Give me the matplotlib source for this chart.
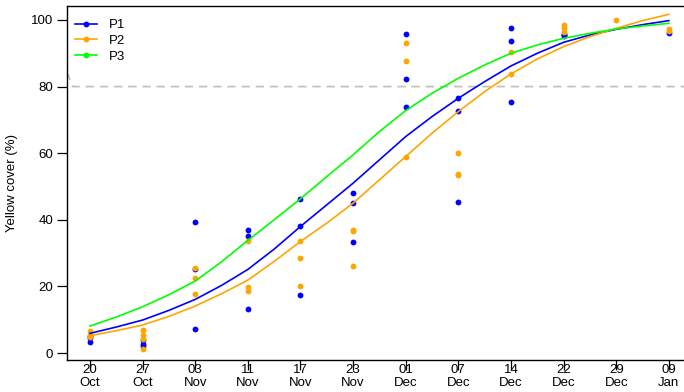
"""Yellow cover over time for three plots, with fitted curves."""

import matplotlib
matplotlib.use("Agg")
import matplotlib.pyplot as plt

plt.rcParams["font.family"] = ["Liberation Sans", "DejaVu Sans"]

# --- data -------------------------------------------------------------
day_labels = ["20", "27", "03", "11", "17", "23", "01", "07", "14", "22", "29", "09"]
month_labels = ["Oct", "Oct", "Nov", "Nov", "Nov", "Nov", "Dec", "Dec", "Dec", "Dec", "Dec", "Jan"]

# observed yellow cover (%) per sampling date
p1_obs = [
    [3.2, 4.5, 5.0],
    [3.9, 2.7, 2.0],
    [39.4, 25.1, 7.1],
    [36.9, 35.1, 13.1],
    [46.3, 38.0, 17.5],
    [47.9, 45.0, 33.2],
    [95.7, 82.3, 74.0],
    [76.5, 72.7, 45.2],
    [97.6, 93.6, 75.3],
    [95.7, 95.5, 95.2],
    [],
    [96.2],
]
p2_obs = [
    [6.5, 5.4, 4.9],
    [6.9, 5.4, 4.2, 1.1],
    [25.6, 22.6, 17.6],
    [33.6, 19.9, 18.6],
    [33.5, 28.6, 20.2],
    [36.9, 36.5, 26.0],
    [93.2, 87.8, 59.0],
    [60.2, 53.9, 53.5],
    [90.4, 83.8],
    [98.5, 97.5, 96.5],
    [100.0],
    [97.2, 96.8],
]

# fitted curves, read at every half step between sampling dates
curve_idx = [1, 1.5, 2, 2.5, 3, 3.5, 4, 4.5, 5, 5.5, 6, 6.5,
             7, 7.5, 8, 8.5, 9, 9.5, 10, 10.5, 11, 11.5, 12]
p1_fit = [5.9, 7.8, 9.9, 12.8, 16.1, 20.3, 25.1, 31.2, 38.0, 44.5, 51.0, 58.0,
          65.0, 71.0, 76.5, 81.5, 86.2, 90.0, 93.3, 95.5, 97.2, 98.6, 99.8]
p2_fit = [5.2, 6.7, 8.4, 11.0, 14.1, 17.8, 21.9, 27.5, 33.5, 39.0, 45.0, 52.0,
          59.0, 66.0, 72.5, 78.5, 83.8, 88.3, 92.0, 95.0, 97.5, 99.8, 101.7]
p3_fit = [8.1, 10.8, 13.9, 17.5, 21.6, 27.4, 33.8, 40.0, 46.3, 53.0, 59.5, 66.5,
          72.8, 78.0, 82.5, 86.5, 90.0, 92.5, 94.5, 96.0, 97.3, 98.2, 99.0]

threshold = 80
threshold_start = 84.3

C_P1 = "#0000FF"
C_P2 = "#FFA500"
C_P3 = "#00FF00"

# --- figure -----------------------------------------------------------
fig = plt.figure(figsize=(6.84, 3.92), dpi=100)
ax = fig.add_axes([67 / 684, 32 / 392, 625 / 684, 354 / 392])

x_lo, x_hi = 0.563, 12.44
ax.set_xlim(x_lo, x_hi)
ax.set_ylim(-2.1, 104.2)

# threshold line
ax.plot([x_lo, x_lo + 0.11, x_hi], [threshold_start, threshold, threshold],
        color="#BEBEBE", linewidth=1.2, linestyle=(0, (5, 3.5)), zorder=1)

for obs, color in ((p1_obs, C_P1), (p2_obs, C_P2)):
    for i, vals in enumerate(obs):
        ax.plot([i + 1] * len(vals), vals, linestyle="none", marker="o",
                markersize=4.2, color=color, markeredgewidth=0, zorder=2)

ax.plot(curve_idx, p1_fit, color=C_P1, linewidth=1.2, zorder=3)
ax.plot(curve_idx, p2_fit, color=C_P2, linewidth=1.2, zorder=3)
ax.plot(curve_idx, p3_fit, color=C_P3, linewidth=1.2, zorder=3)

# legend with line + dot like the original
handles = [
    plt.Line2D([], [], color=c, linewidth=1.2, marker="o", markersize=4.2,
               markeredgewidth=0)
    for c in (C_P1, C_P2, C_P3)
]
ax.legend(handles, ["P1", "P2", "P3"], loc="upper left", frameon=False,
          fontsize=9.5, handlelength=1.7, handletextpad=0.85, labelspacing=0.25,
          borderaxespad=0.2, bbox_to_anchor=(0.0, 0.985))

ax.set_xticks(range(1, len(day_labels) + 1))
ax.set_xticklabels([f"{d}\n{m}" for d, m in zip(day_labels, month_labels)],
                   fontsize=9.5, linespacing=1.05)
ax.set_yticks([0, 20, 40, 60, 80, 100])
ax.tick_params(axis="y", labelsize=9.5, length=7, width=0.9, pad=3)
ax.tick_params(axis="x", length=7, width=0.9, pad=-4)
ax.set_ylabel("Yellow cover (%)", fontsize=9.5, labelpad=9)

ax.spines["right"].set_visible(False)
for s in ("left", "bottom", "top"):
    ax.spines[s].set_linewidth(1.0)

fig.savefig("out.png", dpi=100, facecolor="white")
plt.close(fig)
